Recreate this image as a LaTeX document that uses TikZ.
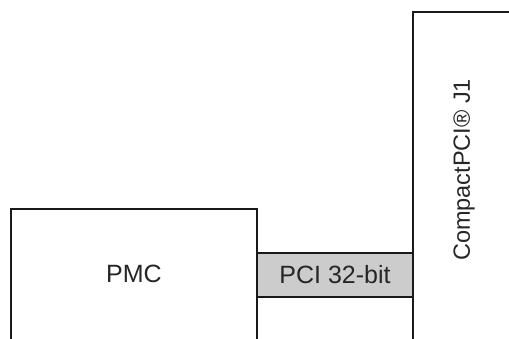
\documentclass[tikz,border=0pt]{standalone}
\usepackage{fontspec}
\setmainfont{Liberation Sans}
\definecolor{busgray}{HTML}{CCCCCC}
\begin{document}
\begin{tikzpicture}[x=1pt,y=-1pt,
  frame/.style={draw=black!90,line width=2.4pt},
  lbl/.style={font=\fontsize{25}{30}\selectfont,text=black!85,inner sep=0pt}]
\useasboundingbox (0,0) rectangle (509,338);
% PMC box (open at the bottom)
\draw[frame] (11,345) -- (11,209) -- (257,209) -- (257,345);
\node[lbl] (pmc) at (134,274) {PMC};
% PCI bus
\draw[frame,fill=busgray] (257,253) rectangle (413,297);
\node[lbl] (pci) at (335,275) {PCI 32-bit};
% CompactPCI connector
\draw[frame] (413,345) -- (413,12) -- (515,12);
\node[lbl,rotate=90,font=\fontsize{23.5}{28}\selectfont] (cpci) at (464,170) {CompactPCI® J1};
\end{tikzpicture}
\end{document}
